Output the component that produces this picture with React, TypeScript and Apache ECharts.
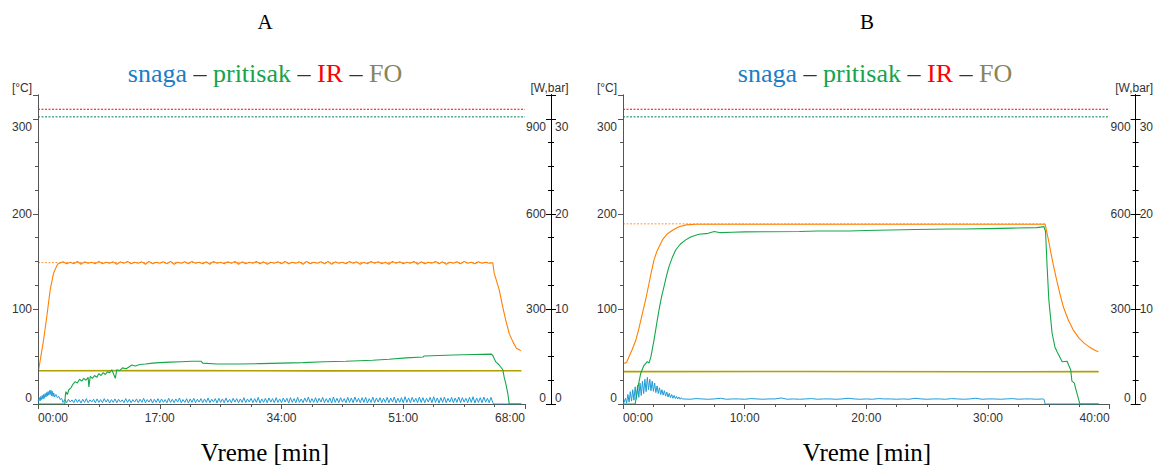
import React, { useEffect, useRef } from 'react';
import * as echarts from 'echarts';

// ---------- axes ----------
const TEMP_MAX = 325, TEMP_STEP = 100, TEMP_MINOR = 25;
const POWER_MAX = 975, POWER_STEP = 300, POWER_MINOR = 75;
const PRESS_MAX = 32.5, PRESS_STEP = 10, PRESS_MINOR = 2.5;
const A_TIME_MAX = 68, A_TIME_STEP = 17;
const B_TIME_MAX = 40, B_TIME_STEP = 10;

const PANEL_TITLES = ['A', 'B'];
const LEGEND_NAMES = ['snaga', 'pritisak', 'IR', 'FO'];
const X_TITLE = 'Vreme [min]';
const Y_LEFT_NAME = '[°C]';
const Y_RIGHT_NAME = '[W,bar]';

// limit lines (°C scale)
const LIMIT_RED = 310;
const LIMIT_GREEN = 302;

// ---------- panel A data ----------
const aSetpoint: [number, number][] = [[0, 148.7], [63.5, 148.7]];
const aTempRise: [number, number][] = [[0.07, 35], [0.4, 50], [0.77, 67], [1.23, 92], [1.7, 120], [2.17, 137.6], [2.6, 145], [2.87, 148]];
const aTempPlateauStart = 3.0, aTempPlateauStep = 0.5;
const aTempPlateau = [
  148, 149.5, 147.5, 149, 147.5, 150, 147, 149.5, 148, 149, 147.5, 150, 147.5, 149, 148, 149.5, 147, 149.5, 148, 150,
  147.5, 149, 148, 149.5, 147, 150, 147.5, 149, 148, 149.5, 147.5, 150, 147, 149, 148, 149.5, 147.5, 150, 148, 149,
  147.5, 149.5, 147, 150, 148, 149, 147.5, 149.5, 148, 150, 147, 149.5, 147.5, 149, 148, 150, 147.5, 149.5, 147, 149,
  148, 149.5, 147.5, 150, 147.5, 149, 148, 149.5, 147, 150, 147.5, 149, 148, 149.5, 147.5, 150, 147, 149.5, 148, 149,
  147.5, 150, 148, 149.5, 147, 149, 147.5, 150, 148, 149.5, 147.5, 149, 147, 150, 148, 149.5, 147.5, 149, 148, 150,
  147, 149.5, 147.5, 149, 148, 150, 147.5, 149.5, 147, 149, 148, 149.5, 147.5, 150, 148, 149, 147.5, 149.5, 148, 149,
  148, 148.5,
];
const aTempDecay: [number, number][] = [[63.7, 137.6], [64.4, 120], [64.9, 102], [65.3, 88.4], [65.8, 74], [66.3, 65.6], [66.8, 58.6], [67.2, 57], [67.4, 56]];
const aFO: [number, number][] = [[0, 35], [20, 35.2], [40, 34.8], [67.5, 35]];
const aPressure: [number, number][] = [
  [0, 0], [3.75, 0], [3.8, 0.77], [3.9, 1.3], [4.1, 1.0], [4.3, 1.5], [4.6, 1.7], [4.9, 2.1], [5.2, 2.35], [5.5, 2.2],
  [5.8, 2.6], [6.1, 2.4], [6.4, 2.7], [6.7, 2.5], [7.0, 2.8], [7.1, 1.8], [7.3, 2.9], [7.6, 2.7], [7.9, 3.0], [8.2, 2.8],
  [8.5, 3.2], [8.8, 3.0], [9.1, 3.3], [9.4, 3.1], [9.7, 3.4], [10.0, 3.3], [10.3, 3.6], [10.8, 2.7], [11.0, 3.6], [11.4, 3.5],
  [11.8, 3.8], [12.3, 3.7], [12.7, 3.9], [13.1, 4.1], [13.6, 4.0], [14.2, 4.15], [15, 4.2], [16, 4.3], [17, 4.35], [18.5, 4.4],
  [20, 4.45], [21.5, 4.5], [22.8, 4.5], [23, 4.3], [25, 4.2], [28, 4.2], [31, 4.25], [34, 4.3], [37, 4.35], [40, 4.45],
  [43, 4.5], [46.7, 4.6], [49, 4.7], [51.4, 4.85], [53.8, 4.95], [53.9, 5.05], [56, 5.1], [58, 5.15], [60.7, 5.2], [63.3, 5.25],
  [63.5, 5.1], [63.9, 4.45], [64.4, 4.1], [64.9, 3.6], [65.1, 2.8], [65.3, 2.2], [65.6, 1.1], [65.8, 0], [67.5, 0],
];
const aPowerStart: [number, number][] = [
  [0, 12], [0.1, 9], [0.2, 20], [0.3, 10], [0.4, 24], [0.5, 14], [0.6, 27], [0.7, 16], [0.8, 30], [0.9, 18],
  [1.0, 33], [1.1, 22], [1.2, 36], [1.3, 25], [1.4, 39], [1.5, 28], [1.6, 42], [1.7, 30], [1.8, 44], [1.9, 26],
  [2.0, 40], [2.1, 24], [2.2, 35], [2.3, 22], [2.5, 30], [2.7, 20], [2.9, 24], [3.1, 14], [3.3, 18],
];
const aPowerNoiseStart = 3.5, aPowerNoiseStep = 0.25;
const aPowerNoise = [
  5, 14, 4, 15, 6, 13, 4, 16, 5, 14, 3, 15, 5, 17, 4, 13, 6, 15, 4, 16,
  5, 14, 4, 17, 6, 15, 3, 14, 5, 16, 4, 15, 6, 13, 4, 17, 5, 15, 4, 14,
  6, 16, 4, 15, 5, 18, 4, 14, 6, 16, 3, 15, 5, 17, 4, 16, 5, 14, 4, 18,
  5, 15, 4, 16, 6, 19, 4, 14, 5, 17, 3, 16, 5, 18, 4, 15, 6, 17, 4, 16,
  5, 19, 4, 15, 6, 17, 3, 18, 5, 16, 4, 19, 5, 15, 4, 18, 6, 17, 4, 16,
  5, 20, 4, 16, 6, 18, 4, 17, 5, 21, 3, 16, 5, 18, 4, 19, 6, 17, 4, 20,
  5, 16, 4, 19, 6, 18, 3, 20, 5, 17, 4, 21, 5, 16, 4, 19, 6, 22, 4, 17,
  5, 20, 4, 18, 6, 21, 4, 17, 5, 19, 3, 22, 5, 18, 4, 20, 6, 17, 4, 21,
  5, 19, 4, 22, 6, 18, 4, 20, 5, 21, 3, 17, 5, 22, 4, 19, 6, 20, 4, 18,
  5, 21, 4, 19, 6, 22, 3, 18, 5, 20, 4, 23, 5, 19, 4, 21, 6, 18, 4, 22,
  5, 20, 4, 18, 6, 21, 4, 23, 5, 19, 3, 20, 5, 22, 4, 18, 6, 21, 4, 19,
  5, 22, 4, 20, 6, 18, 4, 21, 5, 23, 3, 19, 5, 20, 4, 22, 6, 18, 4, 21,
  5,
];
const aPowerEnd: [number, number][] = [[63.6, 0], [67.5, 0]];

// ---------- panel B data ----------
const bSetpoint: [number, number][] = [[0, 189.5], [34.7, 189.5]];
const bTemp: [number, number][] = [
  [0, 43], [0.15, 42.8], [0.3, 44], [0.5, 50], [0.75, 57], [1.05, 67], [1.3, 79], [1.6, 95.5], [1.9, 112], [2.14, 127],
  [2.35, 140], [2.55, 151.6], [2.8, 161], [3.24, 172.6], [3.6, 178.5], [4.1, 183], [4.6, 186.5], [5.2, 188.4], [6, 189], [34.7, 189],
  [34.97, 172.6], [35.2, 157], [35.4, 144.5], [35.65, 130], [35.9, 116.5], [36.2, 102], [36.6, 88.4], [37, 78], [37.5, 69], [37.9, 64],
  [38.3, 60.3], [38.7, 57], [39.06, 55],
];
const bFO: [number, number][] = [[0, 34], [15, 34.2], [30, 33.9], [39.1, 34]];
const bPressure: [number, number][] = [
  [0, 0], [1.0, 0], [1.2, 1.6], [1.45, 3.2], [1.7, 4.0], [2.0, 4.45], [2.14, 4.3], [2.3, 5.0], [2.55, 6.74], [2.75, 8.3],
  [2.96, 9.9], [3.17, 11.3], [3.37, 12.35], [3.58, 13.5], [3.78, 14.45], [4.05, 15.4], [4.33, 16.2], [4.7, 16.8], [5.15, 17.26], [5.6, 17.6],
  [6.24, 17.86], [7, 17.95], [7.5, 18.15], [8, 18.02], [8.98, 18.07], [10, 18.1], [12, 18.12], [14.5, 18.14], [16, 18.2], [18.6, 18.2],
  [20, 18.25], [22, 18.3], [24, 18.35], [26.8, 18.4], [28, 18.4], [30, 18.45], [32, 18.5], [34, 18.55], [34.6, 18.66], [34.73, 18.14],
  [34.86, 14.45], [35.0, 10.95], [35.27, 7.44], [35.5, 6.0], [35.68, 5.5], [36.1, 4.45], [36.5, 4.5], [36.8, 3.58], [36.9, 2.4], [37.1, 2.2],
  [37.2, 1.65], [37.5, 0.24], [37.55, 0], [39.1, 0],
];
const bPowerStartT = 0, bPowerStartStep = 0.1;
const bPowerStart = [
  0, 6, 18, 3, 30, 6, 39, 9, 45, 12,
  54, 15, 60, 21, 66, 27, 72, 33, 78, 39,
  84, 45, 78, 42, 72, 40, 66, 36, 57, 33,
  51, 30, 45, 28, 42, 25, 38, 22, 34, 20,
  30, 18, 27, 17, 24, 16, 22, 15, 20, 15,
];
const bPowerMidStart = 5.0, bPowerMidStep = 0.5;
const bPowerMid = [
  16, 15, 17, 16, 15, 16, 18, 15, 16, 16, 15, 17, 16, 15, 16, 16, 19, 15, 16, 15,
  16, 17, 15, 16, 16, 15, 16, 18, 16, 15, 16, 15, 17, 16, 16, 15, 16, 15, 18, 16,
  15, 16, 16, 15, 17, 16, 15, 16, 18, 15, 16, 16, 15, 16, 17, 15, 16, 16, 15, 16,
];
const bPowerEnd: [number, number][] = [[34.6, 15], [34.7, 0], [39.1, 0]];

// ---------- styling ----------
const SERIF = '"Liberation Serif", "Times New Roman", serif';
const SANS = '"Liberation Sans", Arial, sans-serif';
const LABEL_COLOR = '#333';
const C_ORANGE = '#ff8000';
const C_GREEN = '#14a84a';
const C_BLUE = '#1e9bd7';
const C_OLIVE = '#b0a000';
const C_RED = '#ff0000';
const C_DGREEN = '#00804a';
const C_SET = '#ff9a40';
const DOTS = [2, 1.5];

const sampled = (start: number, step: number, vals: number[]): [number, number][] =>
  vals.map((v, i) => [Math.round((start + i * step) * 1000) / 1000, v]);

function label(top: number, margin: number, inside: boolean) {
  const base = { fontFamily: SANS, fontSize: 12, color: LABEL_COLOR };
  return {
    show: true, inside, margin, ...base,
    formatter: (v: number) => {
      if (v > top + 1e-6) return '';
      if (Math.abs(v - top) < 1e-6) return `{lo|${v}}`;
      if (v === 0) return `{hi|${v}}`;
      return String(v);
    },
    rich: { lo: { ...base, padding: [16, 0, 0, 0] }, hi: { ...base, padding: [0, 0, 12, 0] } },
  };
}

function yAxesFor(grid: number) {
  const common = { gridIndex: grid, type: 'value', min: 0, splitLine: { show: false }, z: 5 };
  const gray = { color: '#555', width: 1 };
  const black = { color: '#000', width: 1 };
  return [
    {
      ...common, max: TEMP_MAX, interval: TEMP_STEP, position: 'left',
      axisLine: { show: true, lineStyle: gray }, axisTick: { show: true, length: 5, lineStyle: gray },
      axisLabel: label(300, 6, false),
      name: Y_LEFT_NAME, nameLocation: 'end', nameGap: 1,
      nameTextStyle: { fontFamily: SANS, fontSize: 12, color: LABEL_COLOR, padding: [0, 32, 0, 0] },
    },
    {
      ...common, max: TEMP_MAX, interval: TEMP_MINOR, position: 'left',
      axisLine: { show: true, lineStyle: gray }, axisTick: { show: true, length: 3, lineStyle: gray },
      axisLabel: { show: false },
    },
    {
      ...common, max: POWER_MAX, interval: POWER_STEP, position: 'right', offset: 26,
      axisLine: { show: true, lineStyle: black }, axisTick: { show: true, inside: true, length: 5, lineStyle: black },
      axisLabel: label(900, 5, true),
      name: Y_RIGHT_NAME, nameLocation: 'end', nameGap: 1,
      nameTextStyle: { fontFamily: SANS, fontSize: 12, color: LABEL_COLOR, padding: [0, 3, 0, 0] },
    },
    {
      ...common, max: POWER_MAX, interval: POWER_MINOR, position: 'right', offset: 26,
      axisLine: { show: true, lineStyle: black }, axisTick: { show: true, inside: true, length: 3, lineStyle: black },
      axisLabel: { show: false },
    },
    {
      ...common, max: PRESS_MAX, interval: PRESS_STEP, position: 'right', offset: 26,
      axisLine: { show: true, lineStyle: black }, axisTick: { show: true, length: 5, lineStyle: black },
      axisLabel: label(30, 4, false),
    },
    {
      ...common, max: PRESS_MAX, interval: PRESS_MINOR, position: 'right', offset: 26,
      axisLine: { show: true, lineStyle: black }, axisTick: { show: true, length: 3, lineStyle: black },
      axisLabel: { show: false },
    },
  ];
}

function xAxisFor(grid: number, max: number, step: number) {
  const gray = { color: '#555', width: 1 };
  return {
    gridIndex: grid, type: 'value', min: 0, max, interval: step,
    axisLine: { show: true, lineStyle: gray },
    axisTick: { show: true, length: 5, lineStyle: gray },
    minorTick: { show: true, splitNumber: 4, length: 3, lineStyle: gray },
    splitLine: { show: false },
    axisLabel: {
      fontFamily: SANS, fontSize: 12, color: LABEL_COLOR, margin: 8,
      alignMinLabel: 'left', alignMaxLabel: 'right',
      formatter: (v: number) => `${String(v).padStart(2, '0')}:00`,
    },
  };
}

function line(data: [number, number][], xi: number, yi: number, color: string, width: number, z: number, type: any = 'solid') {
  return {
    type: 'line', data, xAxisIndex: xi, yAxisIndex: yi, showSymbol: false, symbol: 'none',
    lineStyle: { color, width, type }, silent: true, z, emphasis: { disabled: true },
  };
}

function panelSeries(p: number) {
  const xi = p, base = p * 6;
  const yT = base, yW = base + 2, yP = base + 4;
  const tmax = p === 0 ? A_TIME_MAX : B_TIME_MAX;
  const list: any[] = [
    line([[0, LIMIT_RED], [tmax, LIMIT_RED]], xi, yT, C_RED, 1, 2, DOTS),
    line([[0, LIMIT_GREEN], [tmax, LIMIT_GREEN]], xi, yT, C_DGREEN, 1, 2, DOTS),
  ];
  if (p === 0) {
    list.push(
      line(aSetpoint, xi, yT, C_SET, 1, 2, DOTS),
      line(aFO, xi, yT, C_OLIVE, 1.6, 3),
      line([...aTempRise, ...sampled(aTempPlateauStart, aTempPlateauStep, aTempPlateau), ...aTempDecay], xi, yT, C_ORANGE, 1.1, 4),
      line([...aPowerStart, ...sampled(aPowerNoiseStart, aPowerNoiseStep, aPowerNoise), ...aPowerEnd], xi, yW, C_BLUE, 1, 5),
      line(aPressure, xi, yP, C_GREEN, 1.1, 6),
    );
  } else {
    list.push(
      line(bSetpoint, xi, yT, C_SET, 1, 2, DOTS),
      line(bFO, xi, yT, C_OLIVE, 1.6, 3),
      line(bTemp, xi, yT, C_ORANGE, 1.1, 4),
      line([...sampled(bPowerStartT, bPowerStartStep, bPowerStart), ...sampled(bPowerMidStart, bPowerMidStep, bPowerMid), ...bPowerEnd], xi, yW, C_BLUE, 1, 5),
      line(bPressure, xi, yP, C_GREEN, 1.1, 6),
    );
  }
  return list;
}

function texts(cx: number, legendCx: number, title: string) {
  const center = { align: 'center', verticalAlign: 'middle', textAlign: 'center', textVerticalAlign: 'middle' };
  const LF = 26;
  return [
    { type: 'text', x: cx, y: 22, style: { ...center, text: title, fontFamily: SERIF, fontSize: 21, fill: '#000' } },
    {
      type: 'text', x: legendCx, y: 73,
      style: {
        ...center,
        text: `{s|${LEGEND_NAMES[0]}}{d| – }{p|${LEGEND_NAMES[1]}}{d| – }{i|${LEGEND_NAMES[2]}}{d| – }{f|${LEGEND_NAMES[3]}}`,
        fontFamily: SERIF, fontSize: LF,
        rich: {
          s: { fill: '#1a7dc8', fontFamily: SERIF, fontSize: LF },
          p: { fill: '#16a34a', fontFamily: SERIF, fontSize: LF },
          i: { fill: '#ff0000', fontFamily: SERIF, fontSize: LF },
          f: { fill: '#8b8455', fontFamily: SERIF, fontSize: LF },
          d: { fill: '#333', fontFamily: SERIF, fontSize: LF },
        },
      },
    },
    { type: 'text', x: cx, y: 452, style: { ...center, text: X_TITLE, fontFamily: SERIF, fontSize: 25, fill: '#000' } },
  ];
}

export default function App() {
  const ref = useRef<HTMLDivElement>(null);
  useEffect(() => {
    if (!ref.current) return;
    const chart = echarts.init(ref.current, undefined, { renderer: 'svg' });
    chart.setOption({
      animation: false,
      backgroundColor: '#fff',
      grid: [
        { left: 38, top: 95, width: 487, height: 309 },
        { left: 623, top: 95, width: 488, height: 309 },
      ],
      xAxis: [xAxisFor(0, A_TIME_MAX, A_TIME_STEP), xAxisFor(1, B_TIME_MAX, B_TIME_STEP)],
      yAxis: [...yAxesFor(0), ...yAxesFor(1)],
      series: [...panelSeries(0), ...panelSeries(1)],
      graphic: [...texts(265, 265, PANEL_TITLES[0]), ...texts(867, 875, PANEL_TITLES[1])],
    });
    return () => chart.dispose();
  }, []);
  return <div ref={ref} style={{ width: 1156, height: 468, position: 'absolute', left: 0, top: 0 }} />;
}
